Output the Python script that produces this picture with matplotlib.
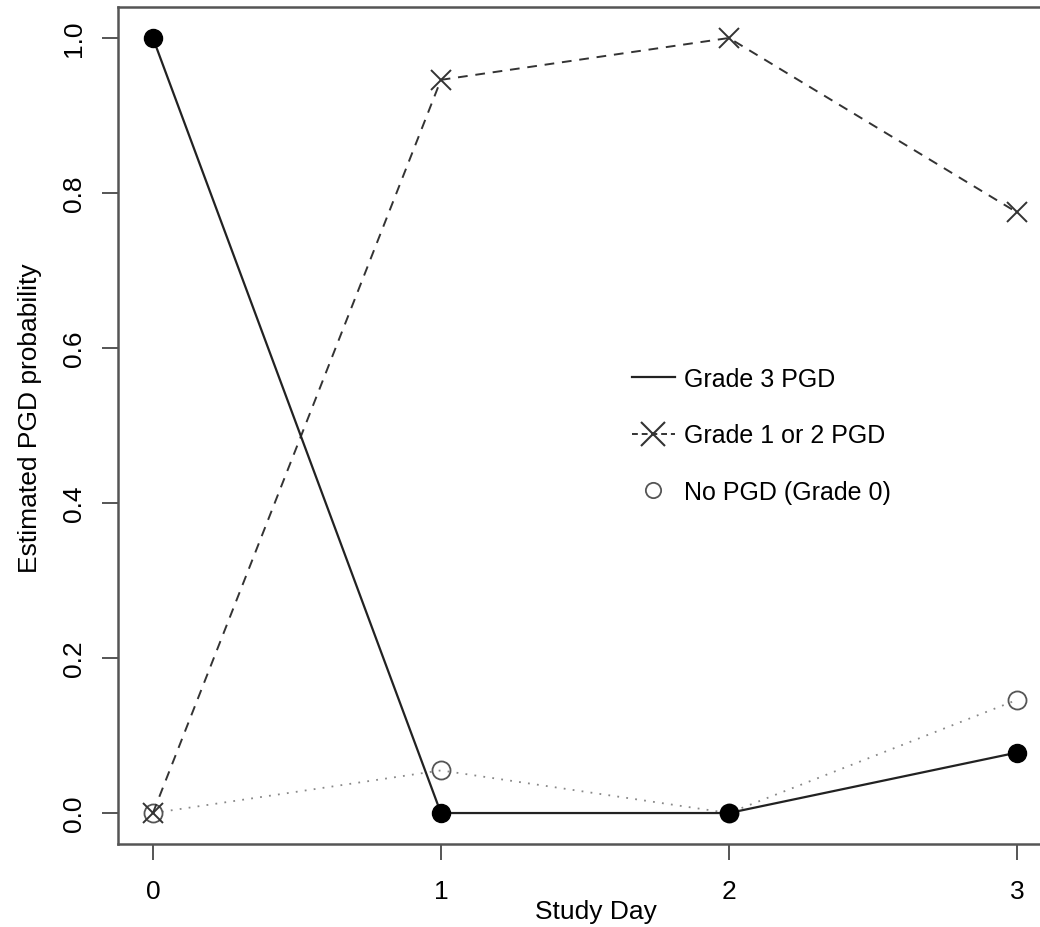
import matplotlib
matplotlib.use('Agg')
import matplotlib.pyplot as plt

plt.rcParams['font.family'] = ['Liberation Sans', 'DejaVu Sans']

# Data
days = [0, 1, 2, 3]
grade3 = [1.0, 0.0, 0.0, 0.078]
grade12 = [0.0, 0.946, 1.0, 0.775]
grade0 = [0.0, 0.055, 0.0, 0.146]
labels = ['Grade 3 PGD', 'Grade 1 or 2 PGD', 'No PGD (Grade 0)']

fig = plt.figure(figsize=(10.4, 9.28), dpi=100)
ax = fig.add_axes([0.1138, 0.0894, 0.8973, 0.902])

ax.plot(days, grade0, linestyle=(0, (1, 4)), color='#888888', lw=1.3,
        marker='o', markersize=13, markerfacecolor='none',
        markeredgecolor='#555555', markeredgewidth=1.3, zorder=2)
ax.plot(days, grade12, linestyle=(0, (5, 4)), color='#333333', lw=1.4,
        marker='x', markersize=15, markeredgecolor='#333333',
        markeredgewidth=1.4, zorder=3)
ax.plot(days, grade3, linestyle='-', color='#222222', lw=1.6,
        marker='o', markersize=13, markerfacecolor='black',
        markeredgecolor='black', zorder=4)

# legend styled like base R (no frame, only line for first, marker for last)
h1, = ax.plot([], [], linestyle='-', color='#222222', lw=1.6)
h2, = ax.plot([], [], linestyle=(0, (3, 2)), color='#333333', lw=1.4,
              marker='x', markersize=17, markeredgewidth=1.5)
h3, = ax.plot([], [], linestyle='none', marker='o', markersize=11,
              markerfacecolor='none', markeredgecolor='#555555',
              markeredgewidth=1.3)
ax.legend([h1, h2, h3], labels, loc='upper left', bbox_to_anchor=(0.550, 0.570),
          frameon=False, fontsize=18, handlelength=1.75, handletextpad=0.35,
          labelspacing=1.3, borderpad=0, borderaxespad=0)

ax.set_xlim(-0.12, 3.12)
ax.set_ylim(-0.04, 1.04)
ax.set_xticks(days)
ax.set_yticks([0.0, 0.2, 0.4, 0.6, 0.8, 1.0])
ax.set_yticklabels(['0.0', '0.2', '0.4', '0.6', '0.8', '1.0'],
                   rotation=90, va='center')

for s in ax.spines.values():
    s.set_color('#555555')
    s.set_linewidth(1.8)

ax.tick_params(axis='both', length=11.5, width=1.4, color='#555555',
               labelsize=19)
ax.tick_params(axis='x', pad=14)
ax.tick_params(axis='y', pad=12)

ax.set_xlabel('Study Day', fontsize=19)
ax.xaxis.set_label_coords(0.512, -0.066)
ax.set_ylabel('Estimated PGD probability', fontsize=19)
ax.yaxis.set_label_coords(-0.082, 0.510)

fig.savefig('out.png', dpi=100)
plt.close(fig)
